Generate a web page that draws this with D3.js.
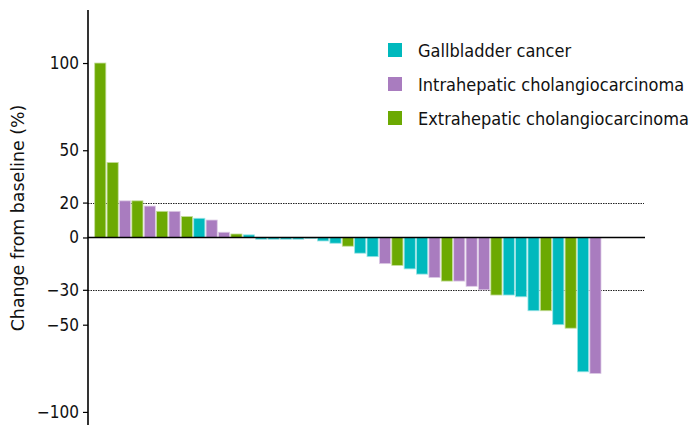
<!DOCTYPE html>
<html>
<head>
<meta charset="utf-8">
<script src="https://cdn.jsdelivr.net/npm/d3@7"></script>
<style>
  html, body { margin: 0; padding: 0; background: #fff; }
  svg { display: block; }
  text { font-family: "DejaVu Sans Condensed", "DejaVu Sans", sans-serif; fill: #111; }
</style>
</head>
<body>
<svg id="chart" width="690" height="425"></svg>
<script>
// ---- data ----
const patients = d3.range(1, 42).map(i => "P" + i);
const values = [100, 43, 21, 21, 18, 15, 15, 12, 11, 10, 3, 2, 1.5,
  -1, -1, -1, -1, -0.4, -2, -3.3, -5, -9, -11, -15, -16, -18, -21, -23,
  -25, -25, -28, -30, -33, -33, -34, -42, -42, -50, -52, -77, -78];
const types = ["E", "E", "I", "E", "I", "E", "I", "E", "G", "I", "I", "E", "G",
  "G", "G", "G", "G", "G", "G", "G", "E", "G", "G", "I", "E", "G", "G", "I",
  "E", "I", "I", "I", "E", "G", "G", "G", "E", "G", "E", "G", "I"];
const typeKeys = ["G", "I", "E"];
const typeLabels = ["Gallbladder cancer", "Intrahepatic cholangiocarcinoma", "Extrahepatic cholangiocarcinoma"];
const typeColors = ["#00B9BD", "#A97CBF", "#6CA902"];
const yTicks = [100, 50, 20, 0, -30, -50, -100];
const refLines = [20, -30];
const yTitle = "Change from baseline (%)";

// ---- scales ----
const svg = d3.select("#chart");
const axisX = 88;
const x = d3.scaleBand().domain(patients).range([94.7, 601]).paddingInner(0.1).paddingOuter(0);
const y = d3.scaleLinear().domain([-107.5, 130.4]).range([425, 10]);
const color = d3.scaleOrdinal().domain(typeKeys).range(typeColors);
const lineEnd = 645;

// reference dotted lines
svg.selectAll("line.ref").data(refLines).join("line")
  .attr("class", "ref")
  .attr("x1", axisX).attr("x2", lineEnd - 1)
  .attr("y1", d => Math.round(y(d)) + 0.5).attr("y2", d => Math.round(y(d)) + 0.5)
  .attr("stroke", "#222").attr("stroke-width", 1).attr("stroke-dasharray", "1.5,1");

// bars
const data = patients.map((p, i) => ({ p, v: values[i], t: types[i] }));
svg.selectAll("rect.bar").data(data).join("rect")
  .attr("class", "bar")
  .attr("x", d => x(d.p))
  .attr("width", x.bandwidth())
  .attr("y", d => Math.min(y(d.v), y(0)))
  .attr("height", d => Math.max(1, Math.abs(y(d.v) - y(0))))
  .attr("fill", d => color(d.t))
  .attr("stroke", d => d3.interpolateRgb(color(d.t), "#fff")(0.6))
  .attr("stroke-width", 0.8);

// zero line
svg.append("line")
  .attr("x1", axisX).attr("x2", lineEnd)
  .attr("y1", y(0)).attr("y2", y(0))
  .attr("stroke", "#000").attr("stroke-width", 1.6);

// y axis
const yAxis = d3.axisLeft(y).tickValues(yTicks).tickSize(5).tickPadding(4).tickFormat(d3.format("d"));
const gy = svg.append("g").attr("transform", `translate(${axisX},0)`).call(yAxis);
gy.select(".domain").remove();
gy.selectAll(".tick line").attr("stroke", "#000").attr("stroke-width", 1.2);
gy.selectAll(".tick text").style("font-family", '"DejaVu Sans Condensed", "DejaVu Sans", sans-serif')
  .style("font-size", "17px").attr("fill", "#111");
gy.append("line").attr("x1", 0).attr("x2", 0).attr("y1", y.range()[1]).attr("y2", y.range()[0])
  .attr("stroke", "#000").attr("stroke-width", 1.6);

// y title
svg.append("text")
  .attr("transform", `translate(24,218) rotate(-90)`)
  .attr("text-anchor", "middle")
  .style("font-family", '"DejaVu Sans", sans-serif')
  .style("font-size", "17.4px")
  .text(yTitle);

// legend
const leg = svg.append("g");
const rows = leg.selectAll("g").data(typeKeys).join("g")
  .attr("transform", (d, i) => `translate(388,${50 + i * 34})`);
rows.append("rect").attr("x", 0).attr("y", -7).attr("width", 14).attr("height", 14)
  .attr("fill", d => color(d));
rows.append("text").attr("x", 30).attr("y", 6.5)
  .style("font-size", "18px")
  .text((d, i) => typeLabels[i]);
</script>
</body>
</html>
